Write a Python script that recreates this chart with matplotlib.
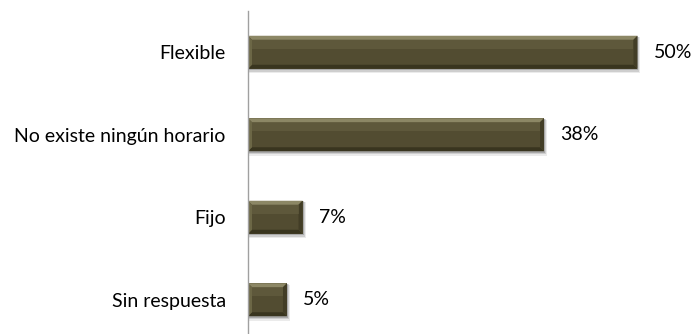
import numpy as np
import matplotlib
matplotlib.use("Agg")
import matplotlib.pyplot as plt
from matplotlib.patches import Polygon, Rectangle

categories = ["Flexible", "No existe ningún horario", "Fijo", "Sin respuesta"]
values = [50, 38, 7, 5]
value_labels = ["50%", "38%", "7%", "5%"]

plt.rcParams.update({
    "font.family": ["Lato", "DejaVu Sans"],
    "font.size": 14,
    "figure.facecolor": "white",
    "axes.facecolor": "white",
})

fig = plt.figure(figsize=(6.92, 3.34), dpi=100)
ax = fig.add_axes([248 / 692, -7 / 334, 444 / 692, 330 / 334])

ypos = np.arange(len(categories))
h = 0.4
base = "#524c31"

# pixel -> data scale for bevel size
px_x = 57 / 444
px_y = 4 / 330
bx, by = 4 * px_x, 4 * px_y

for y, v in zip(ypos, values):
    y0, y1 = y - h / 2, y + h / 2
    # soft shadow
    for k, a in [(3, 0.08), (2, 0.12), (1, 0.18)]:
        ax.add_patch(Rectangle((0, y0 + k * px_y * 0.5), v + k * px_x, h + k * px_y,
                               color="black", alpha=a, lw=0, zorder=1))
    ax.add_patch(Rectangle((0, y0), v, h, color=base, lw=0, zorder=2))
    # top bevel (light)
    ax.add_patch(Polygon([(0, y0), (v, y0), (v - bx, y0 + by), (bx, y0 + by)],
                         closed=True, color="#8c8765", lw=0, zorder=3))
    # bottom bevel (dark)
    ax.add_patch(Polygon([(0, y1), (v, y1), (v - bx, y1 - by), (bx, y1 - by)],
                         closed=True, color="#39351f", lw=0, zorder=3))
    # left bevel
    ax.add_patch(Polygon([(0, y0), (bx, y0 + by), (bx, y1 - by), (0, y1)],
                         closed=True, color="#6c6746", lw=0, zorder=3))
    # right bevel
    ax.add_patch(Polygon([(v, y0), (v - bx, y0 + by), (v - bx, y1 - by), (v, y1)],
                         closed=True, color="#423d26", lw=0, zorder=3))
    # gradient highlight in top half
    ax.add_patch(Rectangle((bx, y0 + by), v - 2 * bx, (h - 2 * by) * 0.35,
                           color="#6a6545", alpha=0.5, lw=0, zorder=3))

for y, v, lab in zip(ypos, values, value_labels):
    ax.text(v + 16 * px_x, y, lab, ha="left", va="center", fontsize=14, color="#000000")

ax.set_xlim(0, 57)
ax.set_ylim(len(categories) - 0.5, -0.5)
ax.set_yticks(ypos)
ax.set_yticklabels(categories)
ax.tick_params(axis="y", length=0, pad=16)
ax.set_xticks([])
for s in ["top", "right", "bottom"]:
    ax.spines[s].set_visible(False)
ax.spines["left"].set_color("#a0a0a0")
ax.spines["left"].set_linewidth(1.0)
ax.spines["left"].set_zorder(5)

fig.savefig("out.png", dpi=100)
